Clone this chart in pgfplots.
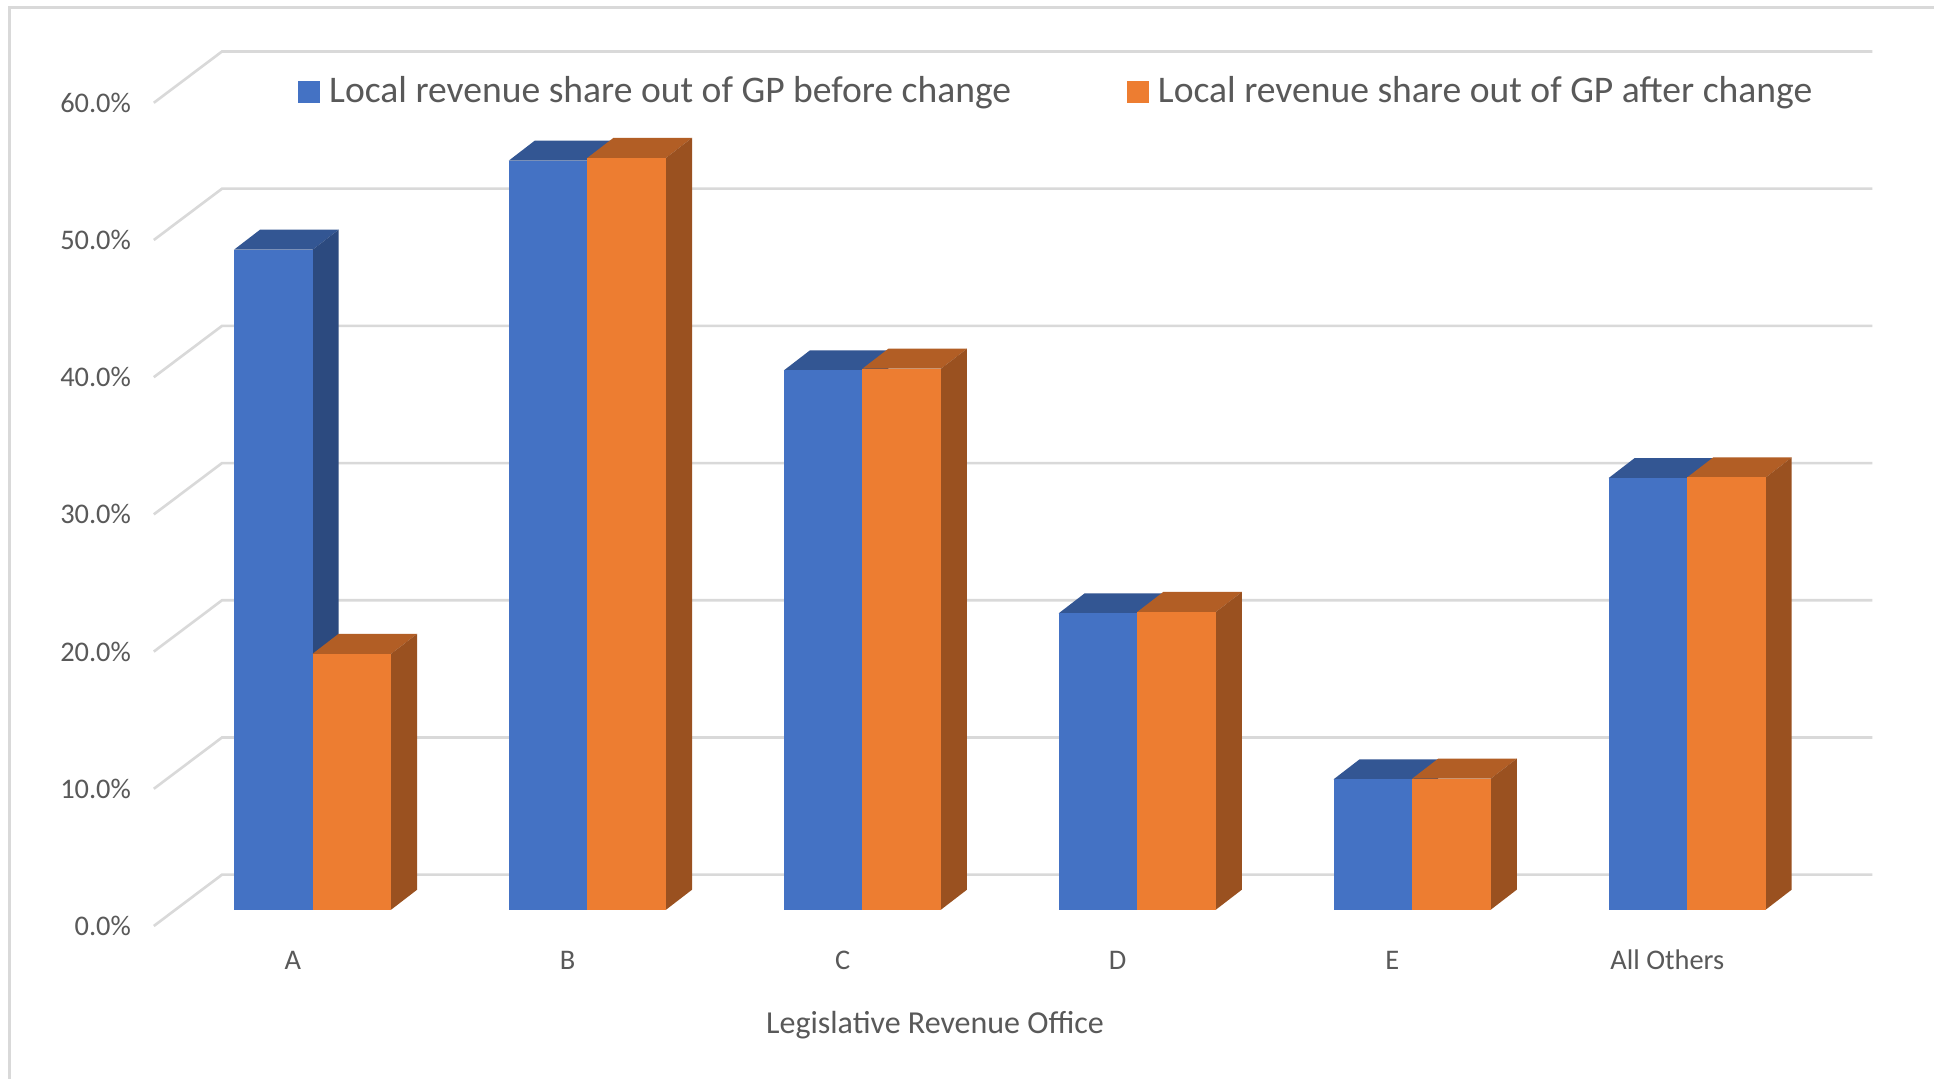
\documentclass[border=0pt]{standalone}
\usepackage{pgfplots}
\pgfplotsset{compat=1.18}
\usepackage{fontspec}
\setmainfont{Carlito}
\definecolor{gridc}{HTML}{D9D9D9}
\definecolor{txt}{HTML}{595959}
\definecolor{bf}{HTML}{4472C4}
\definecolor{bs}{HTML}{2C4A7F}
\definecolor{bt}{HTML}{335693}
\definecolor{of}{HTML}{ED7D31}
\definecolor{os}{HTML}{9A5120}
\definecolor{ot}{HTML}{B25E25}
% one bar: {left x}{value}{front}{side}{top}
\newcommand{\threeDbar}[5]{%
  \pgfmathsetmacro\xa{#1}%
  \pgfmathsetmacro\xb{#1+0.2859}%
  \pgfmathsetmacro\xc{#1+0.2859+0.0946}%
  \pgfmathsetmacro\xd{#1+0.0946}%
  \pgfmathsetmacro\yl{1.19}%
  \pgfmathsetmacro\yh{#2+1.19}%
  \pgfmathsetmacro\ylb{1.19+1.458}%
  \pgfmathsetmacro\yhb{#2+1.19+1.458}%
  \addplot[draw=none,fill=#5,forget plot] coordinates {(\xa,\yh)(\xb,\yh)(\xc,\yhb)(\xd,\yhb)} -- cycle;
  \addplot[draw=none,fill=#4,forget plot] coordinates {(\xb,\yl)(\xc,\ylb)(\xc,\yhb)(\xb,\yh)} -- cycle;
  \addplot[draw=none,fill=#3,forget plot] coordinates {(\xa,\yl)(\xb,\yl)(\xb,\yh)(\xa,\yh)} -- cycle;
}
\newcommand{\gridl}[2]{\addplot[gridc,line width=1.3pt,forget plot] coordinates {(-0.5027,#1)(-0.2546,#2)(5.749,#2)};}
\begin{document}
\begin{tikzpicture}
\useasboundingbox (0,0) rectangle (967pt,539.5pt);
\fill[white] (0,0) rectangle (967pt,539.5pt);
\draw[gridc,line width=1.5pt] (4.5pt,0) -- (4.5pt,535.8pt) -- (967pt,535.8pt);
\begin{axis}[
  at={(69pt,67pt)},anchor=south west,
  scale only axis,width=871pt,height=442.5pt,
  xmin=-0.5602,xmax=5.7767,ymin=-1.385,ymax=63.12,
  clip=false,
  axis line style={draw=none},
  major tick style={draw=none},
  xtick={0,1,2,3,4,5},
  xticklabels={A,B,C,D,E,All Others},
  ytick={0,10,20,30,40,50,60},
  yticklabels={0.0\%,10.0\%,20.0\%,30.0\%,40.0\%,50.0\%,60.0\%},
  tick label style={font=\fontsize{14.2}{16}\selectfont,text=txt},
  xticklabel style={anchor=center,yshift=-7.6pt,xshift=0.4pt},
  xlabel={Legislative Revenue Office},
  xlabel style={at={(axis description cs:0.4575,-0.0901)},anchor=center,font=\fontsize{16}{18}\selectfont,text=txt},
  legend style={at={(axis description cs:0.0921,0.9645)},anchor=west,draw=none,fill=none,
    font=\fontsize{18.8}{22}\selectfont,text=txt,legend columns=2,
    inner sep=0pt,outer sep=0pt,
    /tikz/every even column/.append style={column sep=56pt}},
  legend image code/.code={\fill[#1] (0pt,-5.25pt) rectangle (10.5pt,5.25pt);\path (13pt,0pt);},
]
\gridl{0}{3.74}
\gridl{10}{13.74}
\gridl{20}{23.74}
\gridl{30}{33.74}
\gridl{40}{43.74}
\gridl{50}{53.74}
\gridl{60}{63.74}
\addlegendimage{bf}\addlegendentry{Local revenue share out of GP before change}
\addlegendimage{of}\addlegendentry{Local revenue share out of GP after change}
\threeDbar{-0.2110}{48.1}{bf}{bs}{bt}
\threeDbar{0.0749}{18.65}{of}{os}{ot}
\threeDbar{0.7890}{54.6}{bf}{bs}{bt}
\threeDbar{1.0749}{54.8}{of}{os}{ot}
\threeDbar{1.7890}{39.3}{bf}{bs}{bt}
\threeDbar{2.0749}{39.43}{of}{os}{ot}
\threeDbar{2.7890}{21.6}{bf}{bs}{bt}
\threeDbar{3.0749}{21.7}{of}{os}{ot}
\threeDbar{3.7890}{9.5}{bf}{bs}{bt}
\threeDbar{4.0749}{9.55}{of}{os}{ot}
\threeDbar{4.7890}{31.45}{bf}{bs}{bt}
\threeDbar{5.0749}{31.5}{of}{os}{ot}
\end{axis}
\end{tikzpicture}
\end{document}
